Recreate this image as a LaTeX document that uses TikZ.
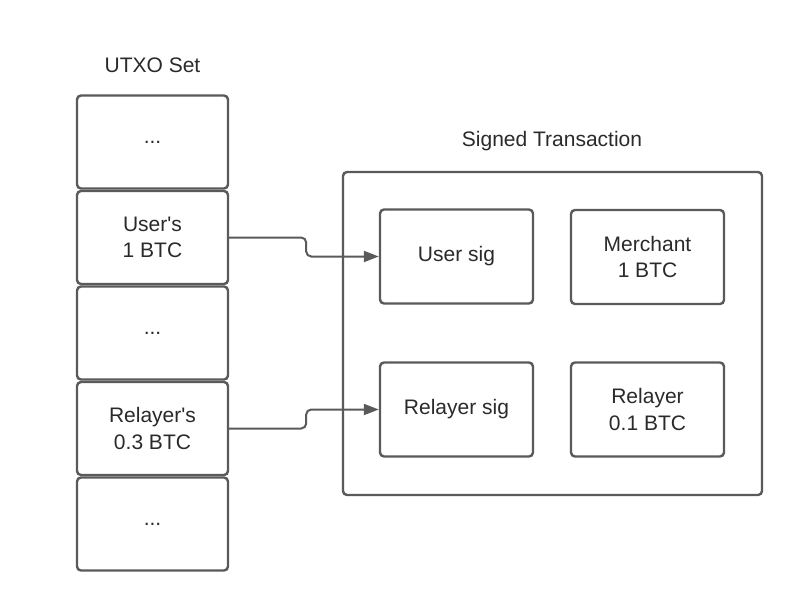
\documentclass[tikz,border=0pt]{standalone}
\usepackage{fontspec}
\setmainfont{Liberation Sans}
\usetikzlibrary{arrows.meta}
\definecolor{linegray}{HTML}{5A5A5A}
\definecolor{textgray}{HTML}{2A2A2A}
\tikzset{
  box/.style={draw=linegray, line width=2.4pt, rounded corners=4pt, align=center,
    text=textgray, font=\fontsize{21}{26.5}\selectfont, inner sep=0pt},
  utxo/.style={box, minimum width=151pt, minimum height=93pt},
  inbox/.style={box, minimum width=153pt, minimum height=94pt},
  title/.style={text=textgray, font=\fontsize{21}{24}\selectfont, inner sep=0pt},
  conn/.style={draw=linegray, line width=2pt, rounded corners=5pt,
    -{Triangle[length=15pt,width=11pt]}}
}
\begin{document}
\begin{tikzpicture}[x=1pt,y=-1pt]
\fill[white] (0,0) rectangle (800,610);
\useasboundingbox (0,0) rectangle (800,610);
\node[title] (t1) at (152.5,65) {UTXO Set};
\node[title] (t2) at (552,141) {Signed Transaction};
\node[utxo] (u0) at (152.5,142) {...};
\node[utxo] (u1) at (152.5,237.5) {User\textquotesingle s\\1 BTC};
\node[utxo] (u2) at (152.5,333) {...};
\node[utxo] (u3) at (152.5,428.5) {Relayer\textquotesingle s\\0.3 BTC};
\node[utxo] (u4) at (152.5,524) {...};
\node[box, minimum width=419pt, minimum height=323pt] (tx) at (552.5,333.5) {};
\node[inbox] (us) at (456.5,256.5) {User sig};
\node[inbox] (me) at (647.5,257) {Merchant\\1 BTC};
\node[inbox] (rs) at (456.5,409.5) {Relayer sig};
\node[inbox] (re) at (647.5,409.5) {Relayer\\0.1 BTC};
\draw[conn] (u1.east) -- ++(77,0) |- (us.west);
\draw[conn] (u3.east) -- ++(77,0) |- (rs.west);
\end{tikzpicture}
\end{document}
